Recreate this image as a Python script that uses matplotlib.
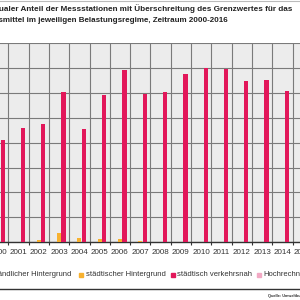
import numpy as np
import matplotlib
matplotlib.use('Agg')
from matplotlib import pyplot as plt
from matplotlib.patches import Rectangle

plt.rcParams['font.family'] = ['Liberation Sans', 'DejaVu Sans']

# Daten (Prozent der Messstationen mit Überschreitung)
years = [str(y) for y in range(2000, 2017)]
laendlich = [0, 0, 0, 0, 0, 0, 0, 0, 0, 0, 0, 0, 0, 0, 0, 0, 0]
staedtisch_hg = [0, 0, 0.7, 3.5, 1.7, 1.1, 1.2, 0.3, 0, 0, 0.2, 0.2, 0.2, 0, 0.2, 0, 0]
verkehrsnah = [41.1, 45.8, 47.5, 60.4, 45.7, 59.4, 69.1, 59.6, 60.4, 67.7,
               70.0, 69.5, 64.9, 65.3, 61.0, 58.0, 0]
hochrechnung = [0, 0, 0, 0, 0, 0, 0, 0, 0, 0, 0, 0, 0, 0, 0, 0, 57.0]

labels = ['ländlicher Hintergrund', 'städtischer Hintergrund',
          'städtisch verkehrsnah', 'Hochrechnung']
colors = ['#f6d77e', '#f7b12f', '#e2175a', '#f2a9c4']

fig = plt.figure(figsize=(3, 3), dpi=100)
W = 300.0

# Achse reicht links und rechts über den Bildrand hinaus (Ausschnitt)
left_px, right_px = -12.0, 333.1
ax = fig.add_axes([left_px / W, 58 / W, (right_px - left_px) / W, (242 - 43.4) / W])
ax.set_facecolor('#ececec')

x = np.arange(len(years))
w = 0.21
off = 0.224
ax.bar(x - off, laendlich, w, color=colors[0], zorder=3)
ax.bar(x, staedtisch_hg, w, color=colors[1], zorder=3)
ax.bar(x + off, verkehrsnah, w, color=colors[2], zorder=3)
ax.bar(x + off, hochrechnung, w, color=colors[3], zorder=3)

ax.set_xlim(-0.5, len(years) - 0.5)
ax.set_ylim(0, 80)
ax.set_yticks(np.arange(0, 81, 10))
ax.set_xticks(x)
ax.set_xticklabels(years, fontsize=5.8, color='#333333')
ax.set_xticks(x[:-1] + 0.5, minor=True)
ax.tick_params(axis='x', which='major', length=0, pad=5)
ax.tick_params(axis='x', which='minor', length=2.5, width=0.8, color='#333333')
ax.tick_params(axis='y', length=0, labelleft=False)
ax.grid(axis='y', color='#7a7a7a', lw=0.8, zorder=1)
ax.grid(axis='x', which='minor', color='#7a7a7a', lw=0.8, zorder=1)
for s in ['top', 'left', 'right']:
    ax.spines[s].set_visible(False)
ax.spines['bottom'].set_color('#333333')
ax.spines['bottom'].set_linewidth(1.0)

# Titel (links abgeschnitten)
fig.text(292 / W, 1 - 8.3 / W,
         'Prozentualer Anteil der Messstationen mit Überschreitung des Grenzwertes für das',
         ha='right', va='center', fontsize=5.85, fontweight='bold', color='#222222')
fig.text(228 / W, 1 - 20.3 / W,
         'Jahresmittel im jeweiligen Belastungsregime, Zeitraum 2000-2016',
         ha='right', va='center', fontsize=5.75, fontweight='bold', color='#222222')

# Legende
ly = 1 - 274.5 / W
text_x = [71.7, 86.0, 176.7, 263.3]
marker_x = [-9, 79.3, 171.0, 257.3]
for i, lab in enumerate(labels):
    fig.patches.append(Rectangle((marker_x[i] / W, ly - 2 / W), 4 / W, 4 / W,
                                 transform=fig.transFigure, color=colors[i]))
    if i == 0:
        fig.text(text_x[i] / W, ly, lab, ha='right', va='center', fontsize=5.5, color='#333333')
    else:
        fig.text(text_x[i] / W, ly, lab, ha='left', va='center', fontsize=5.5, color='#333333')

# Linien oben und unten, Quelle
fig.add_artist(plt.Line2D([0, 1], [1 - 0.5 / W, 1 - 0.5 / W], color='#bbbbbb', lw=0.8))
fig.add_artist(plt.Line2D([0, 1], [1 - 289.3 / W, 1 - 289.3 / W], color='#333333', lw=1.0))
fig.text(268 / W, 1 - 295.5 / W, 'Quelle: Umweltbundesamt', ha='left', va='center',
         fontsize=2.8, color='#333333', fontweight='bold')

fig.savefig('out.png', dpi=100)
